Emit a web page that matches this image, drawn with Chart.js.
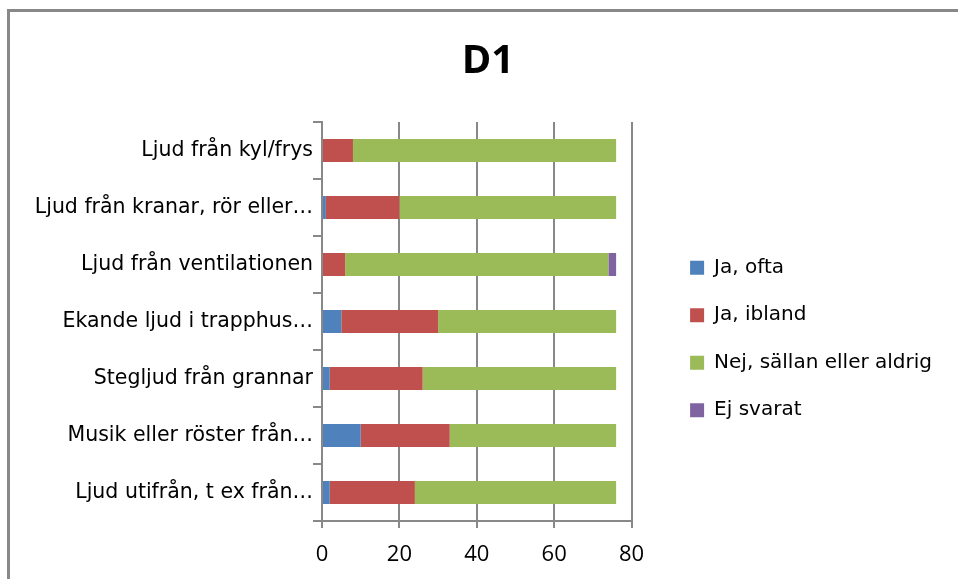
<!DOCTYPE html>
<html>
<head>
<meta charset="utf-8">
<script src="https://cdn.jsdelivr.net/npm/chart.js@4"></script>
<style>
  html, body { margin: 0; padding: 0; background: #fff; overflow: hidden; }
  #wrap { position: relative; width: 958px; height: 579px; }
  #frame {
    position: absolute; left: 7px; top: 9px; width: 1000px; height: 650px;
    border: 3px solid #888; box-sizing: border-box; pointer-events: none;
  }
  canvas { position: absolute; left: 0; top: 0; }
</style>
</head>
<body>
<div id="wrap">
  <canvas id="chart" width="958" height="579"></canvas>
  <div id="frame"></div>
</div>
<script>
// ===== DATA =====
const categories = [
  "Ljud från kyl/frys",
  "Ljud från kranar, rör eller…",
  "Ljud från ventilationen",
  "Ekande ljud i trapphus…",
  "Stegljud från grannar",
  "Musik eller röster från…",
  "Ljud utifrån, t ex från…"
];
const jaOfta   = [0, 1, 0, 5, 2, 10, 2];
const jaIbland = [8, 19, 6, 25, 24, 23, 22];
const nej      = [68, 56, 68, 46, 50, 43, 52];
const ejSvarat = [0, 0, 2, 0, 0, 0, 0];
const xTicks = [0, 20, 40, 60, 80];

const GRID = "#888888";
const FONT = "Open Sans";
const LABEL_FONT = "DejaVu Sans";

// empty box that keeps a gap between plot and legend
const legendGap = {
  id: "legendGap",
  beforeInit(chart) {
    Chart.layouts.addBox(chart, {
      position: "right", weight: 500, fullSize: false, options: {},
      left: 0, top: 0, right: 0, bottom: 0, width: 0, height: 0,
      isHorizontal() { return false; },
      update(maxWidth, maxHeight) { this.width = 31; this.height = maxHeight; },
      draw() {}
    });
  }
};

new Chart(document.getElementById("chart"), {
  type: "bar",
  data: {
    labels: categories,
    datasets: [
      { label: "Ja, ofta", data: jaOfta, backgroundColor: "#4F81BD" },
      { label: "Ja, ibland", data: jaIbland, backgroundColor: "#C0504D" },
      { label: "Nej, sällan eller aldrig", data: nej, backgroundColor: "#9BBB59" },
      { label: "Ej svarat", data: ejSvarat, backgroundColor: "#8064A2" }
    ]
  },
  plugins: [legendGap],
  options: {
    indexAxis: "y",
    responsive: false,
    animation: false,
    layout: { padding: { left: 34, right: 16, top: 0, bottom: 17 } },
    datasets: { bar: { categoryPercentage: 0.8, barPercentage: 0.5 } },
    plugins: {
      title: {
        display: true,
        text: "D1",
        color: "#000",
        font: { family: FONT, size: 40, weight: "bold" },
        padding: { top: 38, bottom: 36 }
      },
      legend: {
        position: "right",
        align: "center",
        fullSize: false,
        maxWidth: 400,
        title: { display: true, text: " ", font: { size: 10 }, padding: { top: 23, bottom: 0 } },
        labels: {
          color: "#000",
          font: { family: LABEL_FONT, size: 20 },
          boxWidth: 14,
          boxHeight: 14,
          padding: 27.5
        }
      },
      tooltip: { enabled: false }
    },
    scales: {
      x: {
        stacked: true,
        min: 0,
        max: 80,
        afterBuildTicks(scale) { scale.ticks = xTicks.map(v => ({ value: v })); },
        afterFit(scale) { scale.height = 41; },
        ticks: { color: "#000", font: { family: FONT, size: 22 }, padding: 14 },
        grid: { color: GRID, lineWidth: 2, tickLength: 7 },
        border: { display: true, color: GRID, width: 2 }
      },
      y: {
        stacked: true,
        afterFit(scale) { scale.width = 288; },
        ticks: { color: "#000", font: { family: LABEL_FONT, size: 20.5 }, padding: 0 },
        grid: { drawOnChartArea: false, color: GRID, lineWidth: 2, tickLength: 9 },
        border: { display: true, color: GRID, width: 2 }
      }
    }
  }
});
</script>
</body>
</html>
